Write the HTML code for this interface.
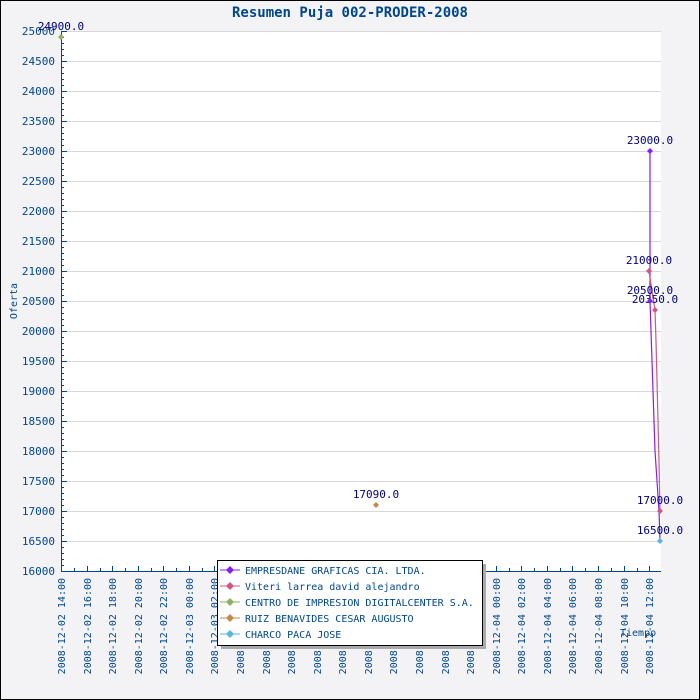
<!DOCTYPE html>
<html><head><meta charset="utf-8"><style>
body{margin:0;background:#fff}
svg{display:block}
text{font-family:"DejaVu Sans Mono","Liberation Mono",monospace}
</style></head><body>
<svg width="700" height="700" xmlns="http://www.w3.org/2000/svg">
<rect x="0.5" y="0.5" width="699" height="699" fill="#f3f3f6" stroke="#000"/>
<text x="350" y="17" text-anchor="middle" font-size="14" font-weight="bold" fill="#00468c">Resumen Puja 002-PRODER-2008</text>
<rect x="61" y="31" width="600" height="540" fill="#fff"/>
<g stroke="#d8d8d8" stroke-width="1">
<line x1="61" x2="661" y1="31.5" y2="31.5"/><line x1="61" x2="661" y1="61.5" y2="61.5"/><line x1="61" x2="661" y1="91.5" y2="91.5"/><line x1="61" x2="661" y1="121.5" y2="121.5"/><line x1="61" x2="661" y1="151.5" y2="151.5"/><line x1="61" x2="661" y1="181.5" y2="181.5"/><line x1="61" x2="661" y1="211.5" y2="211.5"/><line x1="61" x2="661" y1="241.5" y2="241.5"/><line x1="61" x2="661" y1="271.5" y2="271.5"/><line x1="61" x2="661" y1="301.5" y2="301.5"/><line x1="61" x2="661" y1="331.5" y2="331.5"/><line x1="61" x2="661" y1="361.5" y2="361.5"/><line x1="61" x2="661" y1="391.5" y2="391.5"/><line x1="61" x2="661" y1="421.5" y2="421.5"/><line x1="61" x2="661" y1="451.5" y2="451.5"/><line x1="61" x2="661" y1="481.5" y2="481.5"/><line x1="61" x2="661" y1="511.5" y2="511.5"/><line x1="61" x2="661" y1="541.5" y2="541.5"/>
</g>
<g stroke="#00468c" stroke-width="1">
<line x1="61.5" y1="31" x2="61.5" y2="572"/>
<line x1="61" y1="571.5" x2="661" y2="571.5"/>
</g>
<g font-size="11" fill="#00468c" text-anchor="end" style="font-family:'Liberation Sans',sans-serif">
<text x="55" y="35">25000</text><text x="55" y="65">24500</text><text x="55" y="95">24000</text><text x="55" y="125">23500</text><text x="55" y="155">23000</text><text x="55" y="185">22500</text><text x="55" y="215">22000</text><text x="55" y="245">21500</text><text x="55" y="275">21000</text><text x="55" y="305">20500</text><text x="55" y="335">20000</text><text x="55" y="365">19500</text><text x="55" y="395">19000</text><text x="55" y="425">18500</text><text x="55" y="455">18000</text><text x="55" y="485">17500</text><text x="55" y="515">17000</text><text x="55" y="545">16500</text><text x="55" y="575">16000</text>
</g>
<text transform="translate(17,301) rotate(-90)" text-anchor="middle" font-size="10" fill="#00468c">Oferta</text>
<g font-size="10" fill="#00468c" text-anchor="end">
<text transform="translate(65,578) rotate(-90)">2008-12-02 14:00</text>
<text transform="translate(91,578) rotate(-90)">2008-12-02 16:00</text>
<text transform="translate(116,578) rotate(-90)">2008-12-02 18:00</text>
<text transform="translate(142,578) rotate(-90)">2008-12-02 20:00</text>
<text transform="translate(167,578) rotate(-90)">2008-12-02 22:00</text>
<text transform="translate(193,578) rotate(-90)">2008-12-03 00:00</text>
<text transform="translate(218,578) rotate(-90)">2008-12-03 02:00</text>
<text transform="translate(244,578) rotate(-90)">2008-12-03 04:00</text>
<text transform="translate(270,578) rotate(-90)">2008-12-03 06:00</text>
<text transform="translate(295,578) rotate(-90)">2008-12-03 08:00</text>
<text transform="translate(321,578) rotate(-90)">2008-12-03 10:00</text>
<text transform="translate(346,578) rotate(-90)">2008-12-03 12:00</text>
<text transform="translate(372,578) rotate(-90)">2008-12-03 14:00</text>
<text transform="translate(397,578) rotate(-90)">2008-12-03 16:00</text>
<text transform="translate(423,578) rotate(-90)">2008-12-03 18:00</text>
<text transform="translate(449,578) rotate(-90)">2008-12-03 20:00</text>
<text transform="translate(474,578) rotate(-90)">2008-12-03 22:00</text>
<text transform="translate(500,578) rotate(-90)">2008-12-04 00:00</text>
<text transform="translate(525,578) rotate(-90)">2008-12-04 02:00</text>
<text transform="translate(551,578) rotate(-90)">2008-12-04 04:00</text>
<text transform="translate(576,578) rotate(-90)">2008-12-04 06:00</text>
<text transform="translate(602,578) rotate(-90)">2008-12-04 08:00</text>
<text transform="translate(628,578) rotate(-90)">2008-12-04 10:00</text>
<text transform="translate(653,578) rotate(-90)">2008-12-04 12:00</text>
</g>
<g stroke="#00468c">
<path d="M61.5 571v-5M87.5 571v-5M112.5 571v-5M138.5 571v-5M163.5 571v-5M189.5 571v-5M214.5 571v-5M240.5 571v-5M266.5 571v-5M291.5 571v-5M317.5 571v-5M342.5 571v-5M368.5 571v-5M393.5 571v-5M419.5 571v-5M445.5 571v-5M470.5 571v-5M496.5 571v-5M521.5 571v-5M547.5 571v-5M572.5 571v-5M598.5 571v-5M624.5 571v-5M649.5 571v-5"/>
<path d="M74.5 571v-3M100.5 571v-3M125.5 571v-3M151.5 571v-3M176.5 571v-3M202.5 571v-3M227.5 571v-3M253.5 571v-3M279.5 571v-3M304.5 571v-3M330.5 571v-3M355.5 571v-3M381.5 571v-3M406.5 571v-3M432.5 571v-3M458.5 571v-3M483.5 571v-3M509.5 571v-3M534.5 571v-3M560.5 571v-3M585.5 571v-3M611.5 571v-3M637.5 571v-3"/>
<path d="M61 31.5h6M61 61.5h6M61 91.5h6M61 121.5h6M61 151.5h6M61 181.5h6M61 211.5h6M61 241.5h6M61 271.5h6M61 301.5h6M61 331.5h6M61 361.5h6M61 391.5h6M61 421.5h6M61 451.5h6M61 481.5h6M61 511.5h6M61 541.5h6"/>
<path d="M61 37.5h3M61 43.5h3M61 49.5h3M61 55.5h3M61 67.5h3M61 73.5h3M61 79.5h3M61 85.5h3M61 97.5h3M61 103.5h3M61 109.5h3M61 115.5h3M61 127.5h3M61 133.5h3M61 139.5h3M61 145.5h3M61 157.5h3M61 163.5h3M61 169.5h3M61 175.5h3M61 187.5h3M61 193.5h3M61 199.5h3M61 205.5h3M61 217.5h3M61 223.5h3M61 229.5h3M61 235.5h3M61 247.5h3M61 253.5h3M61 259.5h3M61 265.5h3M61 277.5h3M61 283.5h3M61 289.5h3M61 295.5h3M61 307.5h3M61 313.5h3M61 319.5h3M61 325.5h3M61 337.5h3M61 343.5h3M61 349.5h3M61 355.5h3M61 367.5h3M61 373.5h3M61 379.5h3M61 385.5h3M61 397.5h3M61 403.5h3M61 409.5h3M61 415.5h3M61 427.5h3M61 433.5h3M61 439.5h3M61 445.5h3M61 457.5h3M61 463.5h3M61 469.5h3M61 475.5h3M61 487.5h3M61 493.5h3M61 499.5h3M61 505.5h3M61 517.5h3M61 523.5h3M61 529.5h3M61 535.5h3M61 547.5h3M61 553.5h3M61 559.5h3M61 565.5h3"/>
</g>
<text x="620" y="636" font-size="10" fill="#00468c">Tiempo</text>
<polyline fill="none" stroke="#8a1cf0" stroke-width="1.2" points="650,151 650,301 651,331 652,361 653,391 654,421 655,451 657,481 659,511 660,541"/>
<polyline fill="none" stroke="#d0587e" stroke-width="1.2" points="649,271 652,291 655,310 656,341 657,381 658,421 659,461 660,511"/>
<g font-size="11" fill="#000080" text-anchor="middle">
<text x="61" y="30">24900.0</text>
<text x="650" y="144">23000.0</text>
<text x="649" y="264">21000.0</text>
<text x="650" y="294">20500.0</text>
<text x="655" y="303">20350.0</text>
<text x="660" y="504">17000.0</text>
<text x="660" y="534">16500.0</text>
<text x="376" y="498">17090.0</text>
</g>
<g>
<path d="M61 34l3 3-3 3-3-3z" fill="#8db25e"/>
<path d="M650 148l3 3-3 3-3-3z" fill="#8a1cf0"/>
<path d="M650 298l3 3-3 3-3-3z" fill="#8a1cf0"/>
<path d="M649 268l3 3-3 3-3-3z" fill="#d0587e"/>
<path d="M655 307l3 3-3 3-3-3z" fill="#d0587e"/>
<path d="M660 508l3 3-3 3-3-3z" fill="#d0587e"/>
<path d="M660 538l3 3-3 3-3-3z" fill="#5ab4e0"/>
<path d="M376 502l3 3-3 3-3-3z" fill="#c8874a"/>
</g>
<rect x="221" y="564" width="265" height="85" fill="#aaa"/>
<rect x="217.5" y="560.5" width="265" height="85" fill="#fff" stroke="#000"/>
<g font-size="10" fill="#00468c">
<line x1="220" x2="240" y1="570" y2="570" stroke="#8a1cf0"/><path d="M230 566l4 4-4 4-4-4z" fill="#8a1cf0"/><text x="245" y="574">EMPRESDANE GRAFICAS CIA. LTDA.</text>
<line x1="220" x2="240" y1="586" y2="586" stroke="#d0587e"/><path d="M230 582l4 4-4 4-4-4z" fill="#d0587e"/><text x="245" y="590">Viteri larrea david alejandro</text>
<line x1="220" x2="240" y1="602" y2="602" stroke="#8db25e"/><path d="M230 598l4 4-4 4-4-4z" fill="#8db25e"/><text x="245" y="606">CENTRO DE IMPRESION DIGITALCENTER S.A.</text>
<line x1="220" x2="240" y1="618" y2="618" stroke="#c8874a"/><path d="M230 614l4 4-4 4-4-4z" fill="#c8874a"/><text x="245" y="622">RUIZ BENAVIDES CESAR AUGUSTO</text>
<line x1="220" x2="240" y1="634" y2="634" stroke="#5ab4e0"/><path d="M230 630l4 4-4 4-4-4z" fill="#5ab4e0"/><text x="245" y="638">CHARCO PACA JOSE</text>
</g>
</svg>
</body></html>
